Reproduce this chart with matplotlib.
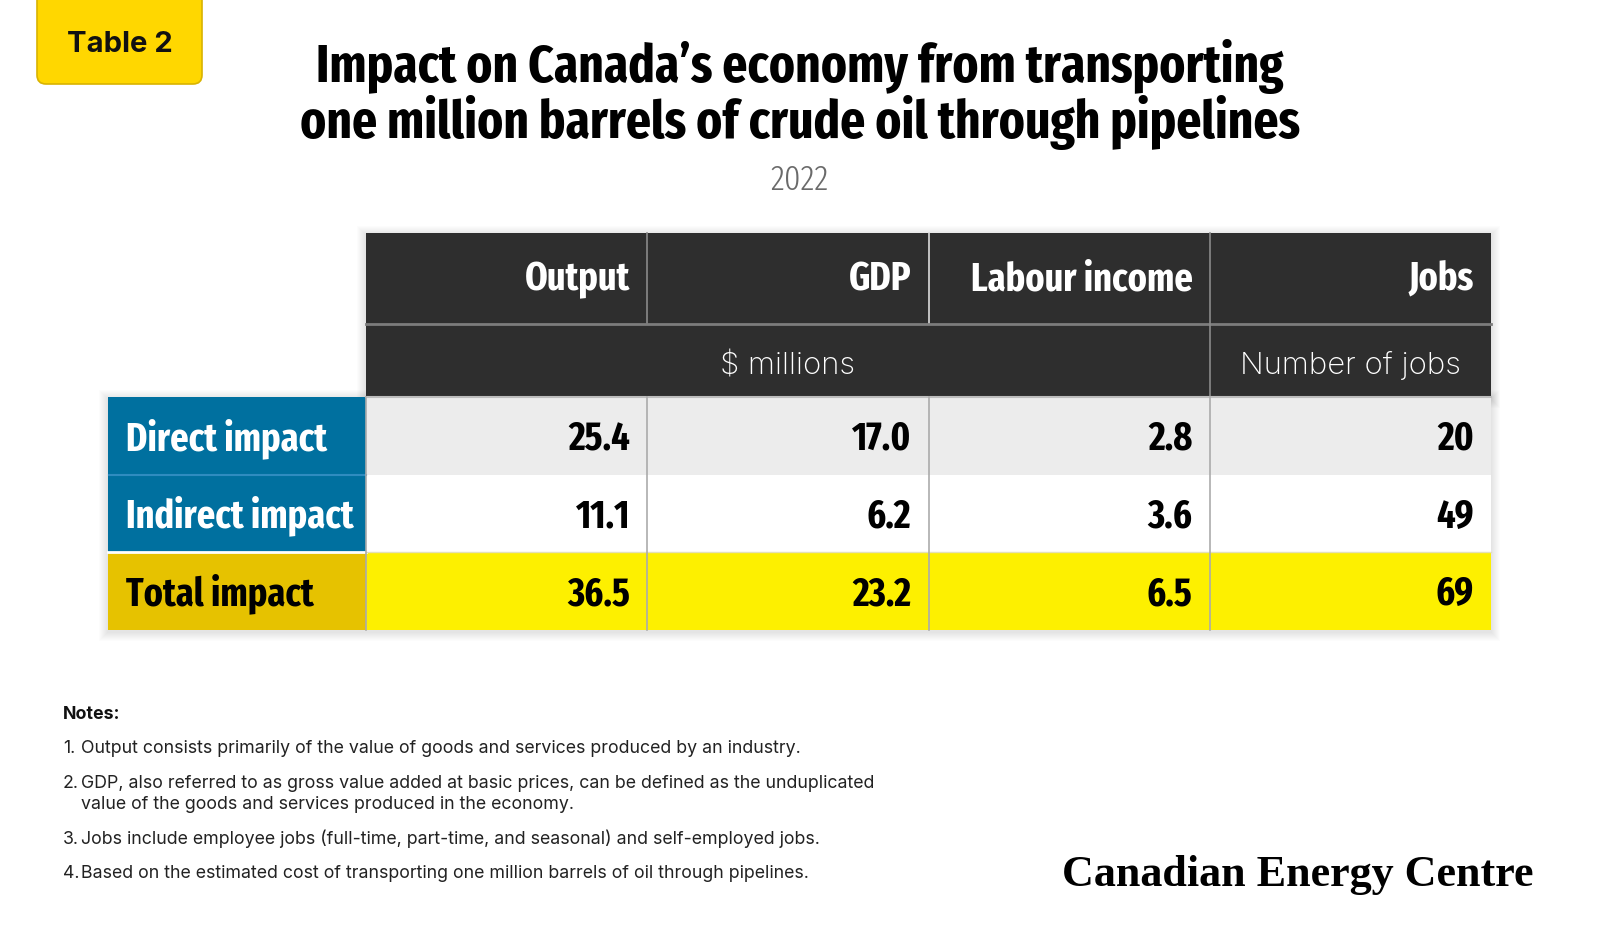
import os
import matplotlib
matplotlib.use("Agg")
import matplotlib.pyplot as plt
from matplotlib.patches import Rectangle, FancyBboxPatch
from matplotlib import font_manager as fm
from matplotlib.font_manager import FontProperties

# Data
columns = ["Output", "GDP", "Labour income", "Jobs"]
unit_labels = ["$ millions", "Number of jobs"]
unit_span = [3, 1]
rows = ["Direct impact", "Indirect impact", "Total impact"]
output = [25.4, 11.1, 36.5]
gdp = [17.0, 6.2, 23.2]
labour_income = [2.8, 3.6, 6.5]
jobs = [20, 49, 69]

title_lines = ["Impact on Canada\u2019s economy from transporting",
               "one million barrels of crude oil through pipelines"]
subtitle = "2022"
notes = [
    "Output consists primarily of the value of goods and services produced by an industry.",
    "GDP, also referred to as gross value added at basic prices, can be defined as the unduplicated\n"
    "value of the goods and services produced in the economy.",
    "Jobs include employee jobs (full-time, part-time, and seasonal) and self-employed jobs.",
    "Based on the estimated cost of transporting one million barrels of oil through pipelines.",
]


# Fonts: look for a condensed face among the installed ones
def weight_num(w):
    if isinstance(w, str):
        return fm.weight_dict.get(w, 400)
    return w


def find_condensed(target_weight):
    best, best_score = None, None
    for f in fm.fontManager.ttflist:
        key = (f.name + " " + os.path.basename(f.fname)).lower().replace(" ", "").replace("-", "")
        if f.style != "normal" or "italic" in key:
            continue
        if "extracondensed" in key or "ultracondensed" in key:
            c = 3
        elif "semicondensed" in key:
            c = 1
        elif "condensed" in key or "narrow" in key:
            c = 2
        else:
            continue
        score = (abs(weight_num(f.weight) - target_weight), -c)
        if best_score is None or score < best_score:
            best, best_score = f.fname, score
    return best


COND_BOLD = find_condensed(700)
COND_REG = find_condensed(300)
installed = {f.name for f in fm.fontManager.ttflist}
SANS = "Inter" if "Inter" in installed else "Roboto"
SERIF = "Liberation Serif" if "Liberation Serif" in installed else "DejaVu Serif"


def cfont(size, bold=True):
    path = COND_BOLD if bold else COND_REG
    if path:
        return FontProperties(fname=path, size=size)
    return FontProperties(family="DejaVu Sans", weight="bold" if bold else "normal",
                          size=size)


DARK = "#2e2e2e"

fig = plt.figure(figsize=(16, 9.5), dpi=100)
ax = fig.add_axes([0, 0, 1, 1])
ax.set_xlim(0, 1600)
ax.set_ylim(950, 0)
ax.axis("off")
renderer = fig.canvas.get_renderer()


def width_of(txt):
    return txt.get_window_extent(renderer).width


def fit_width(txt, width, max_size=None):
    size = txt.get_fontsize() * width / width_of(txt)
    if max_size:
        size = min(size, max_size)
    txt.set_fontsize(size)
    return size


# Badge
ax.add_patch(FancyBboxPatch((37, -30), 165, 114,
                            boxstyle="round,pad=0,rounding_size=9",
                            fc="#FFD700", ec="#D9B300", lw=1.2))
badge = ax.text(120, 44, "Table 2", ha="center", va="center", family=SANS,
                weight="bold", fontsize=21, color="#111111")
fit_width(badge, 106)

# Title
t2 = ax.text(800, 138, title_lines[1], ha="center", va="baseline",
             color="black", fontproperties=cfont(40))
tsize = fit_width(t2, 1000, max_size=45)
ax.text(800, 82, title_lines[0], ha="center", va="baseline",
        color="black", fontproperties=cfont(tsize))
sub = ax.text(800, 190, subtitle, ha="center", va="baseline", color="#6a6a6a",
              fontproperties=cfont(26, bold=False))
fit_width(sub, 58, max_size=28)

# Table layout
X0, LABEL_W, COL_W = 108, 258, 281.25
TOP, HEAD_H, UNIT_H, ROW_H = 233, 91, 73, 77.7
FS = 34
col_x = [X0 + LABEL_W + i * COL_W for i in range(len(columns))]
right = col_x[-1] + COL_W
body_top = TOP + HEAD_H + UNIT_H
bottom = body_top + ROW_H * len(rows)

# soft shadow
for k in range(1, 10):
    for (x, y, w, h) in [(col_x[0], TOP, right - col_x[0], body_top - TOP),
                         (X0, body_top, right - X0, bottom - body_top)]:
        ax.add_patch(Rectangle((x - k, y - k + 2), w + 2 * k, h + 2 * k,
                               fc="black", ec="none", alpha=0.013, zorder=1))

table_texts = []  # (text, row centre, max width)

# header
ax.add_patch(Rectangle((col_x[0], TOP), right - col_x[0], HEAD_H + UNIT_H,
                       fc=DARK, ec="none", zorder=2))
for i, name in enumerate(columns):
    t = ax.text(col_x[i] + COL_W - 17, TOP + HEAD_H / 2, name, ha="right",
                va="baseline", color="white", fontproperties=cfont(FS), zorder=5)
    table_texts.append((t, TOP + HEAD_H / 2 - 2, COL_W - 34))
head_line = ["#8a8a8a", "#dcdcdc", "#8a8a8a"]
for i in range(1, len(columns)):
    ax.plot([col_x[i], col_x[i]], [TOP, TOP + HEAD_H], color=head_line[i - 1],
            lw=1.2, zorder=4)
ax.plot([col_x[0], right], [TOP + HEAD_H, TOP + HEAD_H], color="#7c7c7c",
        lw=2, zorder=4)

# units row
c = 0
unit_texts = []
for label, span in zip(unit_labels, unit_span):
    xm = col_x[c] + span * COL_W / 2
    unit_texts.append(ax.text(xm, TOP + HEAD_H + UNIT_H / 2 + 14, label,
                              ha="center", va="baseline", color="white",
                              family=SANS, weight="light", fontsize=19,
                              zorder=5))
    c += span
    if c < len(columns):
        ax.plot([col_x[c], col_x[c]], [TOP + HEAD_H, body_top],
                color="#8a8a8a", lw=1.2, zorder=4)
usize = fit_width(unit_texts[0], 135)
unit_texts[1].set_fontsize(usize)

# body
row_bg = ["#ECECEC", "#FFFFFF", "#FDF000"]
label_bg = ["#00709F", "#00709F", "#E6C200"]
label_fg = ["white", "white", "black"]
values = [output, gdp, labour_income, jobs]
fmt = ["{:.1f}", "{:.1f}", "{:.1f}", "{:d}"]
for r, name in enumerate(rows):
    y = body_top + r * ROW_H
    ax.add_patch(Rectangle((X0, y), LABEL_W, ROW_H, fc=label_bg[r],
                           ec="none", zorder=2))
    ax.add_patch(Rectangle((col_x[0], y), right - col_x[0], ROW_H,
                           fc=row_bg[r], ec="none", zorder=2))
    t = ax.text(X0 + 18, y + ROW_H / 2, name, ha="left", va="baseline",
                color=label_fg[r], fontproperties=cfont(FS), zorder=5)
    table_texts.append((t, y + ROW_H / 2, LABEL_W - 30))
    for i in range(len(columns)):
        t = ax.text(col_x[i] + COL_W - 17, y + ROW_H / 2,
                    fmt[i].format(values[i][r]), ha="right", va="baseline",
                    color="black", fontproperties=cfont(FS), zorder=5)
        table_texts.append((t, y + ROW_H / 2, COL_W - 34))

# one font size for the whole table, small enough for every cell
scale = min([1.0] + [mw / width_of(t) for t, _, mw in table_texts])
for t, yc, _ in table_texts:
    t.set_fontsize(FS * scale)
    t.set_y(yc + FS * scale / 2)

# body lines
ax.plot([X0 + 1, X0 + LABEL_W], [body_top + ROW_H] * 2, color="#2f8cc0",
        lw=1.5, zorder=4)
ax.plot([X0, X0 + LABEL_W], [body_top + 2 * ROW_H] * 2, color="white",
        lw=2, zorder=4)
ax.plot([col_x[0], right], [body_top + 2 * ROW_H] * 2, color="#e4e0b8",
        lw=1, zorder=4)
ax.plot([col_x[0], right], [body_top, body_top], color="#bdbdbd", lw=1.5,
        zorder=4)
for i in range(len(columns)):
    ax.plot([col_x[i], col_x[i]], [body_top, bottom], color="#ababab", lw=1.2,
            zorder=4)

# Notes
first = ax.text(81, 752, notes[0], ha="left", va="baseline", family=SANS,
                fontsize=12, color="#222222")
nsize = fit_width(first, 720)
first.remove()
ax.text(63, 719, "Notes:", ha="left", va="baseline", family=SANS,
        weight="bold", fontsize=nsize, color="#111111")
note_y = [753, 788, 844, 878]
for n, (txt, y) in enumerate(zip(notes, note_y)):
    ax.text(63, y, f"{n + 1}.", ha="left", va="baseline", family=SANS,
            fontsize=nsize, color="#222222")
    for k, line in enumerate(txt.split("\n")):
        ax.text(81, y + 21 * k, line, ha="left", va="baseline", family=SANS,
                fontsize=nsize, color="#222222")

# Logo text
logo = ax.text(1534, 886, "Canadian Energy Centre", ha="right", va="baseline",
               family=SERIF, weight="bold", fontsize=34, color="black")
fit_width(logo, 473)

fig.savefig("out.png", dpi=100, facecolor="white")
